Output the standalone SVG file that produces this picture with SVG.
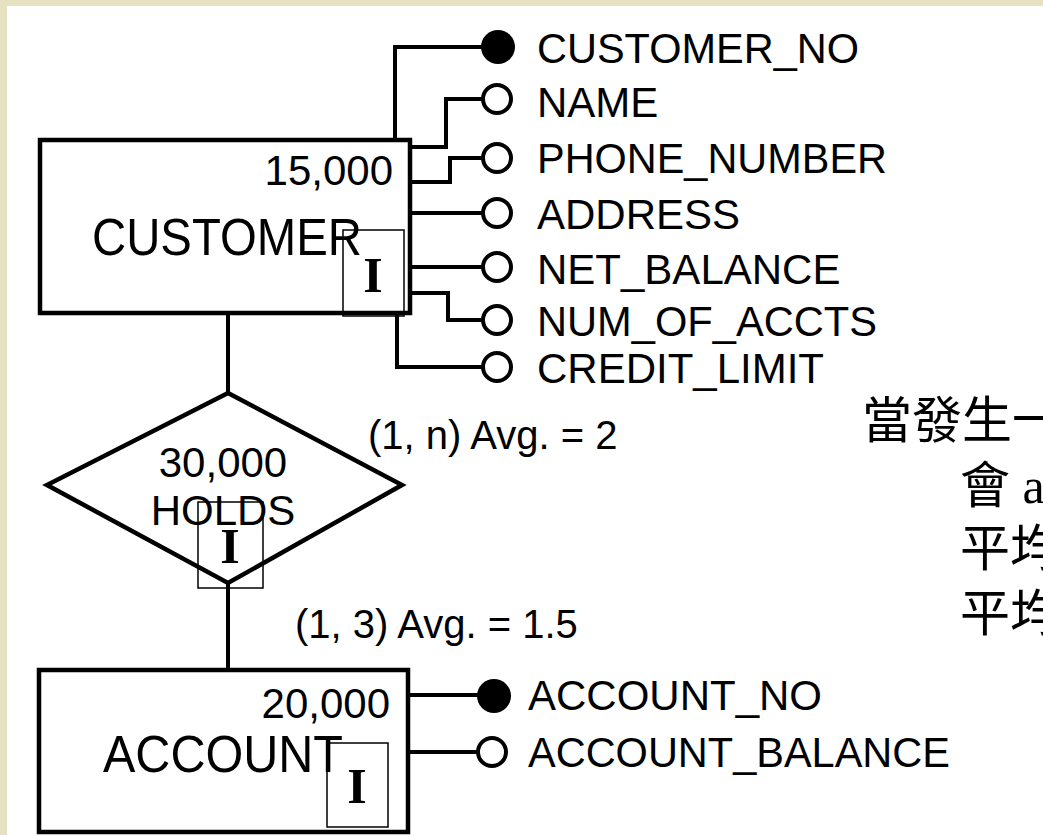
<svg xmlns="http://www.w3.org/2000/svg" width="1043" height="835" viewBox="0 0 1043 835">
<style>
.ln{fill:none;stroke:#000;stroke-width:4;stroke-linejoin:miter}
.box{fill:#fff;stroke:#000;stroke-width:4.5}
.ibox{fill:none;stroke:#000;stroke-width:1.5}
.t{font-family:"Liberation Sans",Arial,sans-serif;fill:#000}
.attr{font-size:42px}
.num{font-size:42px}
.ent{font-size:51px}
.card{font-size:40px}
.ii{font-family:"Liberation Serif","Times New Roman",serif;font-weight:bold;font-size:50px;text-anchor:middle;fill:#000}
.cjk{font-family:"Liberation Serif","Noto Sans CJK TC",serif;font-size:50px;fill:#000}
.key{fill:#000;stroke:none}
.opt{fill:#fff;stroke:#000;stroke-width:4}
</style>
<rect x="0" y="0" width="1043" height="835" fill="#e6e1c0"/>
<rect x="7" y="6" width="1036" height="829" fill="#fff"/>

<g id="connectors">
<path class="ln" d="M395,140 V47 H482"/>
<path class="ln" d="M410,147 H446 V99 H484"/>
<path class="ln" d="M410,182 H450 V158 H484"/>
<path class="ln" d="M410,213 H484"/>
<path class="ln" d="M410,267 H484"/>
<path class="ln" d="M410,293 H448 V320 H484"/>
<path class="ln" d="M397,313 V367 H484"/>
<path class="ln" d="M228,313 V393"/>
<path class="ln" d="M228,583 V670"/>
<path class="ln" d="M408,695 H478"/>
<path class="ln" d="M408,752 H479"/>
<text class="t card" x="368" y="449">(1, n) Avg. = 2</text>
<text class="t card" x="295" y="638">(1, 3) Avg. = 1.5</text>
</g>

<g id="customer">
<rect class="box" x="40" y="140" width="370" height="173"/>
<text class="t num" x="393" y="185" text-anchor="end">15,000</text>
<text class="t ent" x="92" y="255" textLength="270" lengthAdjust="spacingAndGlyphs">CUSTOMER</text>
<rect class="ibox" x="343" y="230" width="61" height="86"/>
<text class="ii" x="373" y="292">I</text>
</g>

<g id="customer-attributes">
<circle class="key" cx="498" cy="47" r="17"/>
<circle class="opt" cx="497" cy="99" r="14"/>
<circle class="opt" cx="497" cy="158" r="14"/>
<circle class="opt" cx="497" cy="213" r="14"/>
<circle class="opt" cx="497" cy="267" r="14"/>
<circle class="opt" cx="497" cy="320" r="14"/>
<circle class="opt" cx="497" cy="367" r="14"/>
<text class="t attr" x="537" y="63" textLength="322" lengthAdjust="spacingAndGlyphs">CUSTOMER_NO</text>
<text class="t attr" x="537" y="117">NAME</text>
<text class="t attr" x="537" y="173" textLength="350" lengthAdjust="spacingAndGlyphs">PHONE_NUMBER</text>
<text class="t attr" x="537" y="229">ADDRESS</text>
<text class="t attr" x="537" y="284">NET_BALANCE</text>
<text class="t attr" x="537" y="336" textLength="340" lengthAdjust="spacingAndGlyphs">NUM_OF_ACCTS</text>
<text class="t attr" x="537" y="383">CREDIT_LIMIT</text>
</g>

<g id="holds">
<polygon class="box" points="228,393 402,485 228,583 47,485"/>
<text class="t num" x="223" y="477" text-anchor="middle">30,000</text>
<text class="t num" x="223" y="525" text-anchor="middle">HOLDS</text>
<rect class="ibox" x="198" y="502" width="65" height="86"/>
<text class="ii" x="230" y="563">I</text>
</g>

<g id="account">
<rect class="box" x="39" y="670" width="369" height="162"/>
<text class="t num" x="390" y="718" text-anchor="end">20,000</text>
<text class="t ent" x="103" y="772" textLength="240" lengthAdjust="spacingAndGlyphs">ACCOUNT</text>
<rect class="ibox" x="327" y="743" width="61" height="84"/>
<text class="ii" x="357" y="803">I</text>
</g>

<g id="account-attributes">
<circle class="key" cx="494" cy="696" r="17"/>
<circle class="opt" cx="492" cy="752" r="14"/>
<text class="t attr" x="528" y="710">ACCOUNT_NO</text>
<text class="t attr" x="528" y="767" textLength="422" lengthAdjust="spacingAndGlyphs">ACCOUNT_BALANCE</text>
</g>

<g id="note">
<text class="cjk" x="862" y="438">當發生一</text>
<text class="cjk" x="960" y="503">會 a</text>
<text class="cjk" x="960" y="566">平均</text>
<text class="cjk" x="960" y="631">平均</text>
</g>
</svg>
